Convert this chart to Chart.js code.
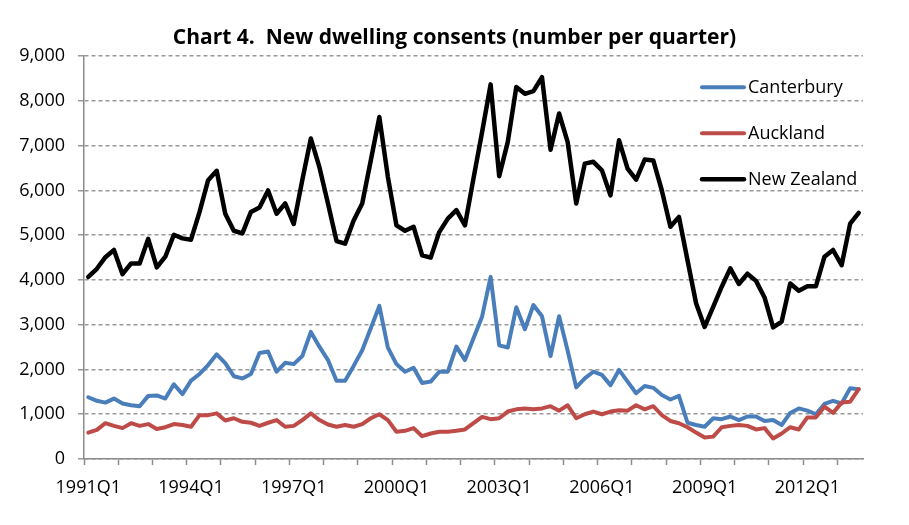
<!DOCTYPE html>
<html>
<head>
<meta charset="utf-8">
<title>New dwelling consents</title>
<script src="https://cdn.jsdelivr.net/npm/chart.js@4.4.1/dist/chart.umd.min.js"></script>
<style>
  html, body { margin: 0; padding: 0; background: #fff; }
  #wrap { width: 909px; height: 525px; }
</style>
</head>
<body>
<div id="wrap"><canvas id="consentsChart" width="909" height="525"></canvas></div>
<script>
// Quarterly categories, 1991Q1 to 2013Q3
const quarters = [];
for (let yr = 1991; yr <= 2013; yr++) {
    for (let q = 1; q <= 4; q++) {
        if (yr === 2013 && q > 3) break;
        quarters.push(yr + 'Q' + q);
    }
}

// Values (number of consents per quarter)
const canterbury = [
    1380, 1300, 1260, 1350, 1240, 1200, 1180, 1410, 1420, 1350, 1670, 1450,
    1750, 1900, 2100, 2340, 2140, 1850, 1800, 1900, 2370, 2400, 1950, 2150,
    2120, 2300, 2840, 2510, 2210, 1750, 1750, 2080, 2430, 2920, 3420, 2490,
    2120, 1950, 2040, 1700, 1730, 1950, 1950, 2510, 2210, 2700, 3180, 4070,
    2540, 2490, 3390, 2900, 3440, 3190, 2300, 3190, 2420, 1600, 1800, 1950,
    1880, 1650, 1990, 1730, 1470, 1630, 1590, 1430, 1330, 1410, 810, 760,
    720, 910, 890, 950, 870, 950, 950, 850, 870, 760, 1030, 1130,
    1080, 1000, 1230, 1300, 1240, 1580, 1560
];

const auckland = [
    590, 650, 800, 740, 690, 800, 740, 780, 670, 710, 780, 760,
    720, 980, 980, 1020, 860, 910, 830, 810, 740, 810, 870, 720,
    740, 870, 1020, 870, 770, 720, 760, 720, 780, 910, 1000, 870,
    610, 630, 690, 510, 570, 610, 610, 630, 660, 800, 940, 890,
    910, 1060, 1110, 1130, 1110, 1130, 1180, 1080, 1200, 910, 1000, 1060,
    1000, 1060, 1090, 1080, 1200, 1110, 1180, 980, 850, 800, 710, 590,
    480, 500, 710, 740, 760, 740, 660, 690, 460, 570, 710, 660,
    930, 930, 1170, 1030, 1260, 1280, 1560
];

const newZealand = [
    4070, 4250, 4510, 4670, 4130, 4370, 4370, 4920, 4280, 4520, 5010, 4930,
    4900, 5520, 6230, 6440, 5480, 5100, 5040, 5520, 5620, 6000, 5480, 5710,
    5250, 6230, 7160, 6520, 5710, 4870, 4810, 5330, 5710, 6670, 7640, 6300,
    5220, 5100, 5190, 4550, 4500, 5070, 5370, 5560, 5220, 6270, 7300, 8370,
    6320, 7080, 8310, 8160, 8220, 8530, 6910, 7720, 7080, 5710, 6600, 6640,
    6450, 5890, 7120, 6490, 6240, 6690, 6670, 6000, 5190, 5410, 4440, 3480,
    2950, 3400, 3850, 4260, 3910, 4140, 3980, 3610, 2940, 3070, 3920, 3760,
    3860, 3860, 4520, 4670, 4330, 5260, 5500
];

const seriesNames = ['Canterbury', 'Auckland', 'New Zealand'];
const seriesColors = ['#4a7ebb', '#be4b48', '#000000'];

const FONT = '"Open Sans", "Liberation Sans", sans-serif';
const AXIS_GREY = '#8c8c8c';

// Legend sits inside the plot area, top right, like the original
const insideLegend = {
    id: 'insideLegend',
    afterDraw(chart) {
        const { ctx, chartArea } = chart;
        const x0 = chartArea.right - 161;
        ctx.save();
        ctx.font = '18px ' + FONT;
        ctx.textBaseline = 'middle';
        ctx.fillStyle = '#000';
        chart.data.datasets.forEach((ds, i) => {
            const y = chartArea.top + 31 + i * 46;
            ctx.strokeStyle = ds.borderColor;
            ctx.lineWidth = ds.borderWidth;
            ctx.lineCap = 'round';
            ctx.beginPath();
            ctx.moveTo(x0, y);
            ctx.lineTo(x0 + 42, y);
            ctx.stroke();
            ctx.fillText(ds.label, x0 + 46, y + 1);
        });
        ctx.restore();
    }
};

function makeDataset(i, values, width, order) {
    return {
        label: seriesNames[i],
        data: values,
        borderColor: seriesColors[i],
        backgroundColor: seriesColors[i],
        borderWidth: width,
        pointRadius: 0,
        pointHoverRadius: 0,
        tension: 0,
        borderJoinStyle: 'round',
        borderCapStyle: 'round',
        order: order
    };
}

const ctx = document.getElementById('consentsChart');

new Chart(ctx, {
    type: 'line',
    data: {
        labels: quarters,
        datasets: [
            makeDataset(0, canterbury, 4, 3),
            makeDataset(1, auckland, 4, 2),
            makeDataset(2, newZealand, 4.5, 1)
        ]
    },
    options: {
        responsive: false,
        animation: false,
        layout: {
            padding: 0
        },
        plugins: {
            legend: { display: false },
            tooltip: { enabled: false },
            title: {
                display: true,
                text: 'Chart 4.  New dwelling consents (number per quarter)',
                color: '#000',
                font: { family: FONT, size: 21, weight: 'bold' },
                padding: { top: 25, bottom: 6 }
            }
        },
        scales: {
            x: {
                type: 'category',
                offset: true,
                ticks: {
                    autoSkip: false,
                    maxRotation: 0,
                    minRotation: 0,
                    color: '#000',
                    font: { family: FONT, size: 18 },
                    padding: 12,
                    callback: function(value, index) {
                        return index % 12 === 0 ? this.getLabelForValue(value) : '';
                    }
                },
                grid: {
                    drawOnChartArea: false,
                    drawTicks: true,
                    tickLength: 6,
                    offset: true,
                    tickWidth: 1.5,
                    tickColor: function(c) {
                        return c.index % 4 === 0 ? AXIS_GREY : 'rgba(0,0,0,0)';
                    }
                },
                border: { color: AXIS_GREY, width: 1.5 },
                afterFit: function(scale) { scale.height = 66; }
            },
            y: {
                min: 0,
                max: 9000,
                ticks: {
                    stepSize: 1000,
                    color: '#000',
                    font: { family: FONT, size: 18 },
                    padding: 13,
                    callback: function(value) {
                        return value.toLocaleString('en-US');
                    }
                },
                grid: {
                    color: '#999999',
                    lineWidth: 1.5,
                    tickLength: 6
                },
                border: { color: AXIS_GREY, width: 1.5, dash: [4, 3] },
                afterFit: function(scale) { scale.width = 84; }
            },
            // empty right-hand margin so the title stays centred on the page
            yMargin: {
                type: 'linear',
                position: 'right',
                ticks: { display: false },
                grid: { display: false },
                border: { display: false },
                afterFit: function(scale) { scale.width = 46; }
            }
        }
    },
    plugins: [insideLegend]
});
</script>
</body>
</html>
